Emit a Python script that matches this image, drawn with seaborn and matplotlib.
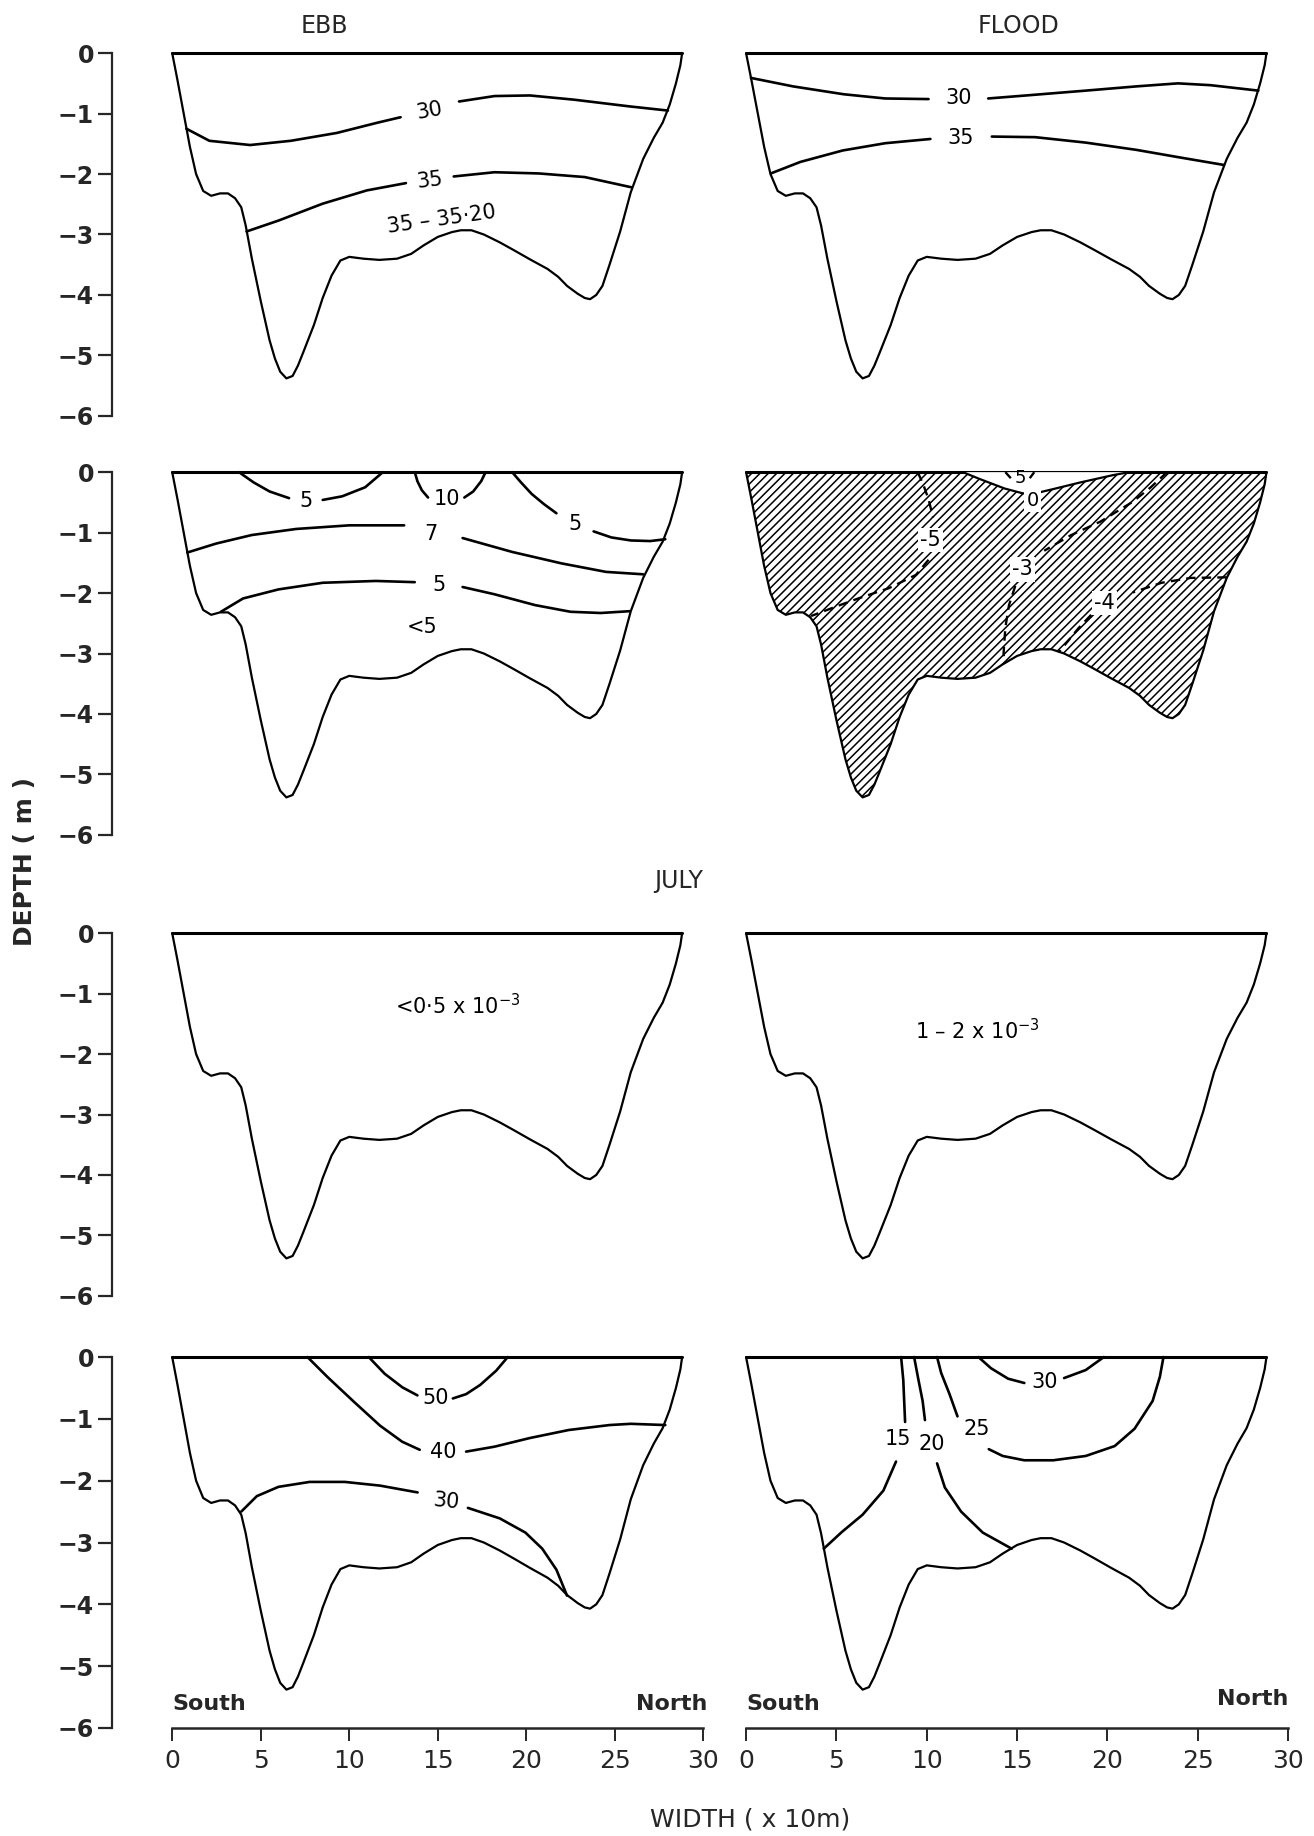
import matplotlib
matplotlib.use("Agg")
import matplotlib.pyplot as plt
import seaborn as sns

# ---------------------------------------------------------------
# Channel cross-section: width (x10 m) and depth (m)
# ---------------------------------------------------------------
bed_x = [0.0, 0.3, 0.65, 1.0, 1.35, 1.75, 2.2, 2.7, 3.15, 3.55, 3.9, 4.15, 4.5,
         5.0, 5.5, 5.8, 6.1, 6.45, 6.8, 7.1, 7.4, 8.0, 8.5, 9.0, 9.5, 10.0,
         10.8, 11.7, 12.7, 13.5, 14.2, 15.0, 15.8, 16.3, 16.9, 17.6, 18.5, 19.3,
         20.2, 21.2, 21.8, 22.3, 22.9, 23.3, 23.6, 23.95, 24.3, 24.7, 25.3, 25.9,
         26.6, 27.2, 27.7, 28.1, 28.45, 28.7, 28.8]
bed_z = [0.0, -0.45, -1.0, -1.55, -2.0, -2.28, -2.36, -2.32, -2.32, -2.4, -2.55,
         -2.85, -3.4, -4.1, -4.75, -5.05, -5.27, -5.38, -5.34, -5.17, -4.95,
         -4.5, -4.05, -3.68, -3.43, -3.37, -3.4, -3.42, -3.4, -3.32, -3.18,
         -3.04, -2.96, -2.93, -2.93, -3.0, -3.13, -3.26, -3.41, -3.57, -3.7,
         -3.85, -3.98, -4.05, -4.07, -4.0, -3.85, -3.5, -2.95, -2.3, -1.75,
         -1.4, -1.15, -0.85, -0.5, -0.2, 0.0]

depth_ticks = [0, -1, -2, -3, -4, -5, -6]
width_ticks = [0, 5, 10, 15, 20, 25, 30]

# ---------------------------------------------------------------
# Ebb, salinity
# ---------------------------------------------------------------
ebb_s30a_x = [0.8, 2.1, 4.4, 6.7, 9.3, 11.6, 12.9]
ebb_s30a_z = [-1.25, -1.45, -1.52, -1.45, -1.32, -1.15, -1.06]
ebb_s30b_x = [16.2, 18.2, 20.2, 22.7, 25.8, 28.0]
ebb_s30b_z = [-0.8, -0.71, -0.70, -0.77, -0.88, -0.95]
ebb_s35a_x = [4.2, 6.0, 8.5, 11.0, 13.2]
ebb_s35a_z = [-2.95, -2.77, -2.49, -2.27, -2.15]
ebb_s35b_x = [15.9, 18.2, 20.7, 23.3, 25.95]
ebb_s35b_z = [-2.04, -1.97, -1.99, -2.05, -2.22]

# Flood, salinity
fld_s30a_x = [0.27, 2.6, 5.4, 7.7, 10.1]
fld_s30a_z = [-0.41, -0.55, -0.68, -0.75, -0.76]
fld_s30b_x = [13.4, 15.5, 18.8, 21.6, 23.9, 25.7, 28.35]
fld_s30b_z = [-0.75, -0.7, -0.62, -0.55, -0.5, -0.53, -0.62]
fld_s35a_x = [1.37, 3.0, 5.35, 7.7, 10.2]
fld_s35a_z = [-1.99, -1.8, -1.61, -1.49, -1.42]
fld_s35b_x = [13.6, 16.0, 18.8, 21.6, 23.9, 26.45]
fld_s35b_z = [-1.38, -1.39, -1.48, -1.6, -1.72, -1.85]

# ---------------------------------------------------------------
# Ebb, current speed
# ---------------------------------------------------------------
ebb_v5a1_x = [3.77, 4.6, 5.5, 6.6]
ebb_v5a1_z = [0.0, -0.17, -0.32, -0.43]
ebb_v5a2_x = [8.5, 9.6, 10.9, 11.9]
ebb_v5a2_z = [-0.46, -0.4, -0.25, 0.0]
ebb_v10a_x = [13.7, 13.85, 14.1, 14.45]
ebb_v10a_z = [0.0, -0.15, -0.3, -0.42]
ebb_v10b_x = [16.5, 17.0, 17.45, 17.7]
ebb_v10b_z = [-0.42, -0.32, -0.15, 0.0]
ebb_v5b1_x = [19.2, 19.7, 20.3, 21.0, 21.7]
ebb_v5b1_z = [0.0, -0.17, -0.36, -0.53, -0.68]
ebb_v5b2_x = [23.8, 24.8, 25.9, 27.0, 27.85]
ebb_v5b2_z = [-0.98, -1.08, -1.13, -1.14, -1.11]
ebb_v7a_x = [0.85, 2.5, 4.5, 7.0, 10.0, 13.1]
ebb_v7a_z = [-1.33, -1.18, -1.04, -0.94, -0.88, -0.88]
ebb_v7b_x = [16.4, 19.2, 22.0, 24.5, 26.6]
ebb_v7b_z = [-1.09, -1.32, -1.51, -1.65, -1.69]
ebb_v5c1_x = [2.75, 4.0, 6.0, 8.5, 11.5, 13.7]
ebb_v5c1_z = [-2.31, -2.09, -1.94, -1.83, -1.8, -1.82]
ebb_v5c2_x = [16.4, 18.2, 20.5, 22.5, 24.2, 25.85]
ebb_v5c2_z = [-1.9, -2.02, -2.2, -2.31, -2.33, -2.3]

# Flood, current speed (negative = landward); zero line bounds the seaward core
fld_v0_x = [12.0, 12.9, 14.3, 15.3, 15.8, 16.3, 17.0, 18.5, 20.3, 21.2]
fld_v0_z = [0.0, -0.11, -0.27, -0.35, -0.36, -0.33, -0.28, -0.17, -0.05, 0.0]
fld_v5top_a_x = [14.35, 14.65]
fld_v5top_a_z = [0.0, -0.1]
fld_v5top_b_x = [15.7, 15.95]
fld_v5top_b_z = [-0.1, 0.0]
fld_vm5a_x = [9.5, 9.8, 10.1, 10.35]
fld_vm5a_z = [0.0, -0.2, -0.45, -0.75]
fld_vm5b_x = [10.1, 9.4, 7.9, 6.3, 5.1, 3.6]
fld_vm5b_z = [-1.45, -1.7, -1.92, -2.08, -2.21, -2.38]
fld_vm3a_x = [23.3, 22.4, 21.4, 19.6, 18.0, 16.5]
fld_vm3a_z = [0.0, -0.25, -0.49, -0.82, -1.04, -1.3]
fld_vm3b_x = [14.9, 14.55, 14.35, 14.25, 14.3]
fld_vm3b_z = [-1.88, -2.2, -2.57, -3.0, -3.17]
fld_vm4a_x = [26.6, 24.6, 23.0, 21.4]
fld_vm4a_z = [-1.74, -1.75, -1.83, -1.99]
fld_vm4b_x = [19.1, 18.4, 17.8, 17.3]
fld_vm4b_z = [-2.36, -2.58, -2.8, -2.98]

# ---------------------------------------------------------------
# Bottom row
# ---------------------------------------------------------------
ebb_c50a_x = [11.1, 12.0, 13.0, 13.85]
ebb_c50a_z = [0.0, -0.27, -0.49, -0.62]
ebb_c50b_x = [15.85, 16.6, 17.4, 18.3, 18.95]
ebb_c50b_z = [-0.67, -0.6, -0.45, -0.22, 0.0]
ebb_c40a_x = [7.64, 8.76, 10.25, 11.74, 12.99, 13.98]
ebb_c40a_z = [0.0, -0.32, -0.72, -1.11, -1.37, -1.5]
ebb_c40b_x = [16.6, 18.2, 20.2, 22.4, 24.7, 25.9, 27.85]
ebb_c40b_z = [-1.53, -1.45, -1.31, -1.18, -1.1, -1.08, -1.1]
ebb_c30a_x = [3.9, 4.78, 6.0, 7.76, 9.75, 11.74, 13.86]
ebb_c30a_z = [-2.5, -2.25, -2.1, -2.02, -2.02, -2.08, -2.19]
ebb_c30b_x = [16.7, 18.5, 19.95, 20.9, 21.7, 22.3]
ebb_c30b_z = [-2.44, -2.61, -2.84, -3.1, -3.44, -3.86]

fld_c30a_x = [12.86, 13.55, 14.5, 15.4]
fld_c30a_z = [0.0, -0.18, -0.35, -0.42]
fld_c30b_x = [17.6, 18.8, 19.8]
fld_c30b_z = [-0.34, -0.21, 0.0]
fld_c25a_x = [10.57, 10.8, 11.26, 11.7]
fld_c25a_z = [0.0, -0.26, -0.6, -0.96]
fld_c25b_x = [13.43, 14.2, 15.4, 17.0, 18.8, 20.4, 21.5, 22.5, 22.9, 23.1]
fld_c25b_z = [-1.49, -1.6, -1.67, -1.67, -1.6, -1.44, -1.16, -0.71, -0.32, 0.0]
fld_c20a_x = [9.3, 9.54, 9.77, 9.9]
fld_c20a_z = [0.0, -0.37, -0.71, -1.02]
fld_c20b_x = [10.57, 11.0, 11.9, 13.1, 14.7]
fld_c20b_z = [-1.72, -2.11, -2.5, -2.84, -3.1]
fld_c15a_x = [8.58, 8.7, 8.8]
fld_c15a_z = [0.0, -0.37, -1.05]
fld_c15b_x = [8.3, 7.6, 6.45, 5.3, 4.3]
fld_c15b_z = [-1.69, -2.16, -2.55, -2.83, -3.1]

# ---------------------------------------------------------------
# Drawing
# ---------------------------------------------------------------
sns.set_theme(style="ticks")
plt.rcParams["font.family"] = ["DejaVu Sans"]
plt.rcParams["hatch.linewidth"] = 1.1
plt.rcParams["axes.unicode_minus"] = True

W, H = 1314, 1836
fig = plt.figure(figsize=(W / 100, H / 100), dpi=100)
fig.patch.set_facecolor("white")

LINE = 1.6
ISO = 1.9
LBL = 15


def rect(left_px, right_px, top_px, bottom_px):
    return [left_px / W, 1 - bottom_px / H, (right_px - left_px) / W,
            (bottom_px - top_px) / H]


rows_px = [(35, 434), (454, 853), (915, 1314), (1338.5, 1746.5)]
cols_px = [((112, 714), (-3.4, 30.6)), ((728, 1299), (-1.0, 30.6))]


def line(ax, xs, zs, lw=ISO, dashed=False):
    kw = dict(linestyle=(0, (4, 2.6))) if dashed else {}
    sns.lineplot(x=xs, y=zs, sort=False, estimator=None, color="black",
                 linewidth=lw, ax=ax, legend=False, **kw)


def label(ax, x, z, s, rot=0, size=LBL, **kw):
    ax.text(x, z, s, ha="center", va="center", fontsize=size, rotation=rot,
            color="black", zorder=6, **kw)


def section(ax, hatched=False):
    if hatched:
        ax.fill(bed_x, bed_z, facecolor="none", edgecolor="black",
                hatch="////", linewidth=0, zorder=1)
    line(ax, bed_x, bed_z, lw=LINE)
    line(ax, [bed_x[0], bed_x[-1]], [0, 0], lw=2.2)


axes = {}
for r, (top, bot) in enumerate(rows_px):
    for c, ((lft, rgt), xl) in enumerate(cols_px):
        ax = fig.add_axes(rect(lft, rgt, top, bot))
        ax.set_facecolor("none")
        ax.set_xlim(*xl)
        ax.set_ylim(-6.3, 0.3)
        for sp in ax.spines.values():
            sp.set_visible(False)
        ax.set_xticks([])
        ax.set_yticks([])
        ax.set_xlabel("")
        ax.set_ylabel("")
        if c == 0:
            ax.spines["left"].set_visible(True)
            ax.spines["left"].set_bounds(-6, 0)
            ax.spines["left"].set_linewidth(1.6)
            ax.set_yticks(depth_ticks)
            ax.tick_params(axis="y", direction="out", length=10, width=1.6,
                           pad=3, labelsize=17, left=True)
            for t in ax.get_yticklabels():
                t.set_fontweight("bold")
        if r == 3:
            ax.spines["bottom"].set_visible(True)
            ax.spines["bottom"].set_position(("data", -6.0))
            ax.spines["bottom"].set_bounds(0, 30)
            ax.spines["bottom"].set_linewidth(1.8)
            ax.set_xticks(width_ticks)
            ax.tick_params(axis="x", direction="out", length=9, width=1.4,
                           pad=6, labelsize=18, bottom=True)
        axes[(r, c)] = ax

# Row 1: salinity
ax = axes[(0, 0)]
section(ax)
for xs, zs in [(ebb_s30a_x, ebb_s30a_z), (ebb_s30b_x, ebb_s30b_z),
               (ebb_s35a_x, ebb_s35a_z), (ebb_s35b_x, ebb_s35b_z)]:
    line(ax, xs, zs)
label(ax, 14.5, -0.95, "30", rot=10)
label(ax, 14.55, -2.1, "35", rot=7)
label(ax, 15.2, -2.75, "35 – 35·20", rot=8)

ax = axes[(0, 1)]
section(ax)
for xs, zs in [(fld_s30a_x, fld_s30a_z), (fld_s30b_x, fld_s30b_z),
               (fld_s35a_x, fld_s35a_z), (fld_s35b_x, fld_s35b_z)]:
    line(ax, xs, zs)
label(ax, 11.75, -0.75, "30")
label(ax, 11.9, -1.41, "35")

# Row 2: current speed
ax = axes[(1, 0)]
section(ax)
for xs, zs in [(ebb_v5a1_x, ebb_v5a1_z), (ebb_v5a2_x, ebb_v5a2_z),
               (ebb_v10a_x, ebb_v10a_z), (ebb_v10b_x, ebb_v10b_z),
               (ebb_v5b1_x, ebb_v5b1_z), (ebb_v5b2_x, ebb_v5b2_z),
               (ebb_v7a_x, ebb_v7a_z), (ebb_v7b_x, ebb_v7b_z),
               (ebb_v5c1_x, ebb_v5c1_z), (ebb_v5c2_x, ebb_v5c2_z)]:
    line(ax, xs, zs)
label(ax, 7.55, -0.48, "5")
label(ax, 15.5, -0.45, "10")
label(ax, 22.75, -0.86, "5")
label(ax, 14.6, -1.02, "7")
label(ax, 15.05, -1.86, "5")
label(ax, 14.1, -2.56, "<5")

ax = axes[(1, 1)]
section(ax, hatched=True)
ax.fill(fld_v0_x, fld_v0_z, facecolor="white", edgecolor="none", zorder=2)
line(ax, fld_v0_x, fld_v0_z, lw=LINE)
for xs, zs in [(fld_vm5a_x, fld_vm5a_z), (fld_vm5b_x, fld_vm5b_z),
               (fld_vm3a_x, fld_vm3a_z), (fld_vm3b_x, fld_vm3b_z),
               (fld_vm4a_x, fld_vm4a_z), (fld_vm4b_x, fld_vm4b_z),
               (fld_v5top_a_x, fld_v5top_a_z), (fld_v5top_b_x, fld_v5top_b_z)]:
    line(ax, xs, zs, lw=1.7, dashed=True)
bg = dict(bbox=dict(facecolor="white", edgecolor="none", pad=1.5))
label(ax, 15.15, -0.1, "5", size=13)
label(ax, 15.85, -0.47, "0", size=14, **bg)
label(ax, 10.2, -1.12, "-5", size=15, **bg)
label(ax, 15.3, -1.61, "-3", size=15, **bg)
label(ax, 19.85, -2.16, "-4", size=15, **bg)

# Row 3: JULY
ax = axes[(2, 0)]
section(ax)
label(ax, 16.1, -1.2, r"<0·5 x 10$^{-3}$", size=15)
ax = axes[(2, 1)]
section(ax)
label(ax, 12.8, -1.62, r"1 – 2 x 10$^{-3}$", size=15)

# Row 4
ax = axes[(3, 0)]
section(ax)
for xs, zs in [(ebb_c50a_x, ebb_c50a_z), (ebb_c50b_x, ebb_c50b_z),
               (ebb_c40a_x, ebb_c40a_z), (ebb_c40b_x, ebb_c40b_z),
               (ebb_c30a_x, ebb_c30a_z), (ebb_c30b_x, ebb_c30b_z)]:
    line(ax, xs, zs)
label(ax, 14.85, -0.66, "50")
label(ax, 15.3, -1.54, "40")
label(ax, 15.45, -2.34, "30", rot=-6)
ax.text(0.0, -5.78, "South", ha="left", va="bottom", fontsize=16,
        fontweight="bold")
ax.text(30.2, -5.78, "North", ha="right", va="bottom", fontsize=16,
        fontweight="bold")

ax = axes[(3, 1)]
section(ax)
for xs, zs in [(fld_c30a_x, fld_c30a_z), (fld_c30b_x, fld_c30b_z),
               (fld_c25a_x, fld_c25a_z), (fld_c25b_x, fld_c25b_z),
               (fld_c20a_x, fld_c20a_z), (fld_c20b_x, fld_c20b_z),
               (fld_c15a_x, fld_c15a_z), (fld_c15b_x, fld_c15b_z)]:
    line(ax, xs, zs)
label(ax, 16.5, -0.4, "30")
label(ax, 12.75, -1.16, "25")
label(ax, 10.3, -1.41, "20")
label(ax, 8.4, -1.32, "15")
ax.text(0.0, -5.78, "South", ha="left", va="bottom", fontsize=16,
        fontweight="bold")
ax.text(30.0, -5.7, "North", ha="right", va="bottom", fontsize=16,
        fontweight="bold")

# Titles and axis labels
fig.text(324 / W, 1 - 26 / H, "EBB", ha="center", va="center", fontsize=17)
fig.text(1019 / W, 1 - 26 / H, "FLOOD", ha="center", va="center", fontsize=17)
fig.text(679 / W, 1 - 881 / H, "JULY", ha="center", va="center", fontsize=17)
fig.text(25 / W, 1 - 861 / H, "DEPTH ( m )", ha="center", va="center",
         rotation=90, fontsize=18, fontweight="bold")
fig.text(750 / W, 1 - 1819 / H, "WIDTH ( x 10m)", ha="center", va="center",
         fontsize=18)

fig.savefig("out.png", dpi=100, facecolor="white")
